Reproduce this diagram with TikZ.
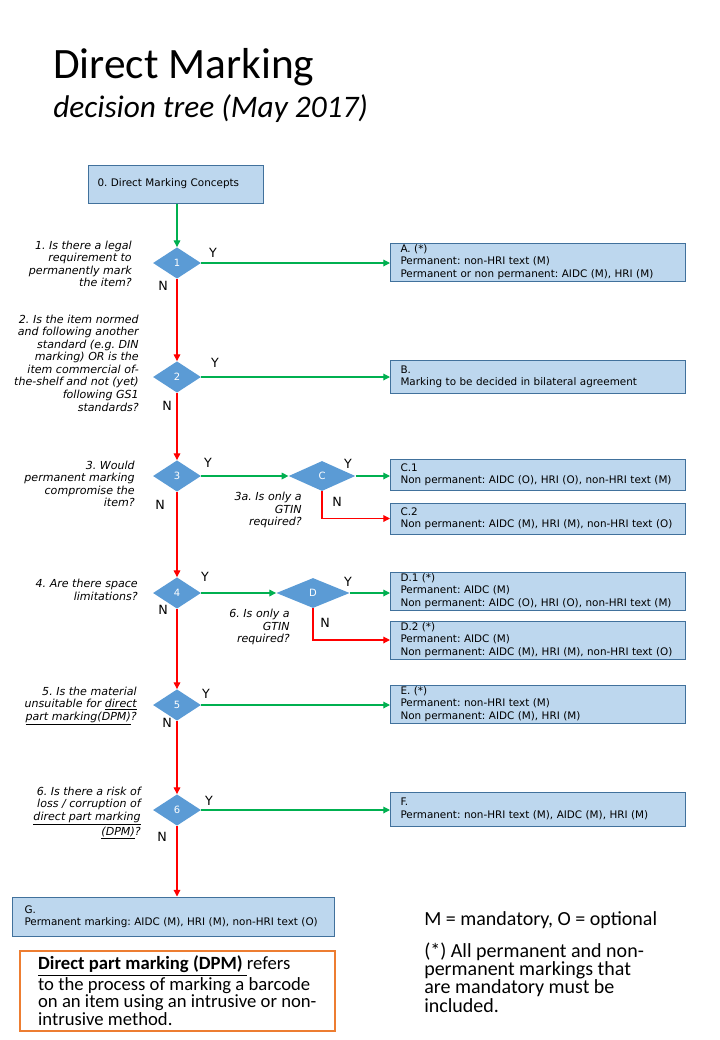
\documentclass[tikz,border=0pt]{standalone}
\usepackage{fontspec}
\setmainfont{DejaVu Sans}
\newfontfamily\calfont{Carlito}
\usetikzlibrary{positioning,shapes.geometric,arrows.meta}
\definecolor{decblue}{HTML}{5B9BD5}
\definecolor{boxfill}{HTML}{BDD7EE}
\definecolor{boxline}{HTML}{41719C}
\definecolor{ygreen}{HTML}{00B050}
\definecolor{nred}{HTML}{FF0000}
\definecolor{dpmorange}{HTML}{ED7D31}
\frenchspacing

\begin{document}
\begin{tikzpicture}[x=0.75pt,y=-0.75pt]
\tikzset{
    decision/.style={diamond, fill=decblue, text=white, inner sep=0pt, minimum width=36pt, minimum height=23.5pt, font=\fontsize{7.5}{8}\selectfont},
    result/.style={rectangle, draw=boxline, fill=boxfill, line width=0.75pt, anchor=west, align=left, text width=206.25pt, inner xsep=7.5pt, inner ysep=1pt, font=\fontsize{7.8}{9.2}\selectfont},
    question/.style={anchor=east, align=right, inner sep=0pt, font=\fontsize{8.3}{9.4}\selectfont\itshape},
    answer/.style={inner sep=0pt, font=\fontsize{9.5}{10}\selectfont},
    yes/.style={draw=ygreen, line width=0.85pt, -{Triangle[length=5pt,width=5pt]}},
    no/.style={draw=nred, line width=0.85pt, -{Triangle[length=5pt,width=5pt]}}
}
\useasboundingbox (0,0) rectangle (720,1040);

% title
\node[anchor=base west, inner sep=0pt, font=\calfont\fontsize{32.5}{32.5}\selectfont] (title) at (53,78) {Direct Marking};
\node[anchor=base west, inner sep=0pt, font=\calfont\fontsize{23.5}{23.5}\selectfont\itshape] (subtitle) at (53,117) {decision tree (May 2017)};

% start
\node[result, text width=117.75pt, inner xsep=6.75pt, minimum height=28.5pt] (start) at (88,184) {0. Direct Marking Concepts};

% decisions
\node[decision] (q1) at (177,263) {1};
\node[decision] (q2) at (177,377) {2};
\node[decision] (q3) at (177,476) {3};
\node[decision] (q4) at (177,593) {4};
\node[decision] (q5) at (177,705) {5};
\node[decision] (q6) at (177,810) {6};
\node[decision, minimum width=50pt, minimum height=22.5pt] (qc) at (322,476) {C};
\node[decision, minimum width=55pt, minimum height=22.5pt] (qd) at (313,593) {D};

% questions
\node[question] (t1) at (132,264) {1. Is there a legal\\requirement to\\permanently mark\\the item?};
\node[question] (t2) at (139,363) {2. Is the item normed\\and following another\\standard (e.g. DIN\\marking) OR is the\\item commercial of-\\the-shelf and not (yet)\\following GS1\\standards?};
\node[question] (t3) at (135,484) {3. Would\\permanent marking\\compromise the\\item?};
\node[question] (t3a) at (302,510) {3a. Is only a\\GTIN\\required?};
\node[question] (t4) at (138,590) {4. Are there space\\limitations?};
\node[question] (t4a) at (290,627) {6. Is only a\\GTIN\\required?};
\node[question] (t5) at (137,706) {5. Is the material\\unsuitable for \underline{direct}\\\underline{part marking(DPM)}?};
\node[question] (t6) at (141,813) {6. Is there a risk of\\loss / corruption of\\\underline{direct part marking}\\\underline{(DPM)}?};

% results
\node[result, minimum height=28.5pt] (ra) at (390,262) {A. (*)\\Permanent: non-HRI text (M)\\Permanent or non permanent: AIDC (M), HRI (M)};
\node[result, minimum height=24.75pt] (rb) at (390,376.5) {B.\\Marking to be decided in bilateral agreement};
\node[result, minimum height=23.25pt] (rc1) at (390,474.5) {C.1\\Non permanent: AIDC (O), HRI (O), non-HRI text (M)};
\node[result, minimum height=23.25pt] (rc2) at (390,518.5) {C.2\\Non permanent: AIDC (M), HRI (M), non-HRI text (O)};
\node[result, minimum height=28.5pt] (rd1) at (390,591) {D.1 (*)\\Permanent: AIDC (M)\\Non permanent: AIDC (O), HRI (O), non-HRI text (M)};
\node[result, minimum height=28.5pt] (rd2) at (390,640) {D.2 (*)\\Permanent: AIDC (M)\\Non permanent: AIDC (M), HRI (M), non-HRI text (O)};
\node[result, minimum height=28.5pt] (re) at (390,704) {E. (*)\\Permanent: non-HRI text (M)\\Non permanent: AIDC (M), HRI (M)};
\node[result, minimum height=25.5pt] (rf) at (390,809) {F.\\Permanent: non-HRI text (M), AIDC (M), HRI (M)};
\node[result, text width=223.5pt, inner xsep=9pt, minimum height=29.25pt] (rg) at (12,916.5) {G.\\Permanent marking: AIDC (M), HRI (M), non-HRI text (O)};

% Y / N
\node[answer] (y1) at (213,253) {Y};
\node[answer] (n1) at (163,286) {N};
\node[answer] (y2) at (215,363) {Y};
\node[answer] (n2) at (167,406) {N};
\node[answer] (y3) at (208,463) {Y};
\node[answer] (n3) at (160,505) {N};
\node[answer] (yc) at (348,464) {Y};
\node[answer] (nc) at (337,502) {N};
\node[answer] (y4) at (205,577) {Y};
\node[answer] (n4) at (163,610) {N};
\node[answer] (yd) at (348,582) {Y};
\node[answer] (nd) at (325,623) {N};
\node[answer] (y5) at (206,694) {Y};
\node[answer] (n5) at (167,723) {N};
\node[answer] (y6) at (209,801) {Y};
\node[answer] (n6) at (162,837) {N};

% connectors
\draw[yes] (start.south -| q1) -- (q1.north);
\draw[yes] (q1.east) -- (q1 -| ra.west);
\draw[no] (q1.south) -- (q2.north);
\draw[yes] (q2.east) -- (q2 -| rb.west);
\draw[no] (q2.south) -- (q3.north);
\draw[yes] (q3.east) -- (qc.west);
\draw[yes] (qc.east) -- (qc -| rc1.west);
\draw[no] (qc.south) |- (rc2.west);
\draw[no] (q3.south) -- (q4.north);
\draw[yes] (q4.east) -- (qd.west);
\draw[yes] (qd.east) -- (qd -| rd1.west);
\draw[no] (qd.south) |- (rd2.west);
\draw[no] (q4.south) -- (q5.north);
\draw[yes] (q5.east) -- (q5 -| re.west);
\draw[no] (q5.south) -- (q6.north);
\draw[yes] (q6.east) -- (q6 -| rf.west);
\draw[no] (q6.south) -- (q6 |- rg.north);

% notes
\node[draw=dpmorange, line width=1.5pt, anchor=north west, minimum width=236pt, minimum height=60pt, align=left, font=\calfont\fontsize{14}{13.4}\selectfont] (dpm) at (19,950) {\underline{\textbf{Direct part marking (DPM)}\ }refers\\to the process of marking a barcode\\on an item using an intrusive or non-\\intrusive method.};
\node[anchor=base west, inner sep=0pt, font=\calfont\fontsize{15}{15}\selectfont] (legend) at (424,925) {M = mandatory, O = optional};
\node[anchor=base west, inner sep=0pt, align=left, font=\calfont\fontsize{15}{13.7}\selectfont] (star) at (424,1012) {(*) All permanent and non-\\permanent markings that\\are mandatory must be\\included.};
\end{tikzpicture}
\end{document}
